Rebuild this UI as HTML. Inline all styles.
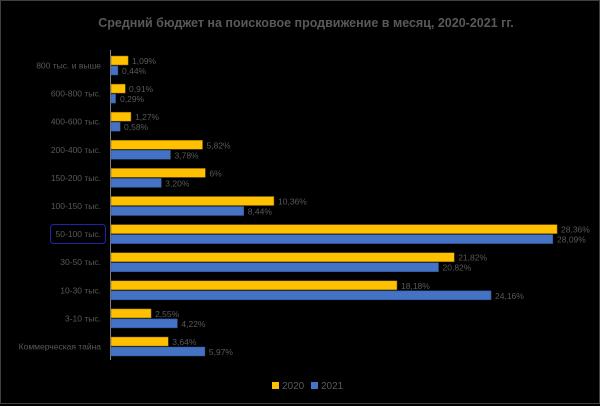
<!DOCTYPE html>
<html><head><meta charset="utf-8"><style>
html,body{margin:0;padding:0;background:#000;}
svg{display:block;font-family:"Liberation Sans","DejaVu Sans",sans-serif;}
</style></head><body>
<svg width="600" height="406" xmlns="http://www.w3.org/2000/svg">
<rect x="0" y="0" width="600" height="406" fill="#000"/>
<rect x="0.5" y="0.5" width="599" height="403" fill="none" stroke="#404040" stroke-width="1"/>
<text x="306" y="27" text-anchor="middle" font-size="12.5" font-weight="bold" fill="#595959">Средний бюджет на поисковое продвижение в месяц, 2020-2021 гг.</text>
<line x1="110.5" y1="50" x2="110.5" y2="360" stroke="#7f7f7f" stroke-width="1"/>
<g fill="#ffc000" stroke="#7f6000" stroke-width="0.5">
<rect x="111" y="56" width="17.15" height="9"/>
<rect x="111" y="84.1" width="14.31" height="9"/>
<rect x="111" y="112.2" width="19.98" height="9"/>
<rect x="111" y="140.3" width="91.55" height="9"/>
<rect x="111" y="168.4" width="94.38" height="9"/>
<rect x="111" y="196.5" width="162.96" height="9"/>
<rect x="111" y="224.6" width="446.1" height="9"/>
<rect x="111" y="252.7" width="343.23" height="9"/>
<rect x="111" y="280.8" width="285.97" height="9"/>
<rect x="111" y="308.9" width="40.11" height="9"/>
<rect x="111" y="337" width="57.26" height="9"/>
</g>
<g fill="#4472c4" stroke="#2f528f" stroke-width="0.5">
<rect x="111" y="66" width="6.92" height="9"/>
<rect x="111" y="94.1" width="4.56" height="9"/>
<rect x="111" y="122.2" width="9.12" height="9"/>
<rect x="111" y="150.3" width="59.46" height="9"/>
<rect x="111" y="178.4" width="50.34" height="9"/>
<rect x="111" y="206.5" width="132.76" height="9"/>
<rect x="111" y="234.6" width="441.85" height="9"/>
<rect x="111" y="262.7" width="327.5" height="9"/>
<rect x="111" y="290.8" width="380.04" height="9"/>
<rect x="111" y="318.9" width="66.38" height="9"/>
<rect x="111" y="347" width="93.91" height="9"/>
</g>
<g font-size="8.5" fill="#595959" text-anchor="end">
<text x="101" y="68.5">800 тыс. и выше</text>
<text x="101" y="96.6">600-800 тыс.</text>
<text x="101" y="124.7">400-600 тыс.</text>
<text x="101" y="152.8">200-400 тыс.</text>
<text x="101" y="180.9">150-200 тыс.</text>
<text x="101" y="209">100-150 тыс.</text>
<text x="101" y="237.1">50-100 тыс.</text>
<text x="101" y="265.2">30-50 тыс.</text>
<text x="101" y="293.3">10-30 тыс.</text>
<text x="101" y="321.4">3-10 тыс.</text>
<text x="101" y="349.5">Коммерческая тайна</text>
</g>
<g font-size="8.5" fill="#595959">
<text x="132" y="64">1,09%</text><text x="122" y="74">0,44%</text>
<text x="129" y="92.1">0,91%</text><text x="120" y="102.1">0,29%</text>
<text x="135" y="120.2">1,27%</text><text x="124" y="130.2">0,58%</text>
<text x="206.5" y="148.3">5,82%</text><text x="174.5" y="158.3">3,78%</text>
<text x="209.4" y="176.4">6%</text><text x="165.3" y="186.4">3,20%</text>
<text x="278" y="204.5">10,36%</text><text x="247.8" y="214.5">8,44%</text>
<text x="561" y="232.6">28,36%</text><text x="557" y="242.6">28,09%</text>
<text x="458.2" y="260.7">21,82%</text><text x="442.5" y="270.7">20,82%</text>
<text x="401" y="288.8">18,18%</text><text x="495" y="298.8">24,16%</text>
<text x="155.1" y="316.9">2,55%</text><text x="181.4" y="326.9">4,22%</text>
<text x="172.3" y="345">3,64%</text><text x="208.9" y="355">5,97%</text>
</g>
<rect x="50.5" y="224.5" width="55" height="19" rx="3" fill="none" stroke="#2222aa" stroke-width="1"/>
<rect x="272" y="382" width="7" height="7" fill="#ffc000"/>
<text x="282" y="389" font-size="10" fill="#595959">2020</text>
<rect x="311" y="382" width="7" height="7" fill="#4472c4"/>
<text x="321" y="389" font-size="10" fill="#595959">2021</text>
</svg>
</body></html>
